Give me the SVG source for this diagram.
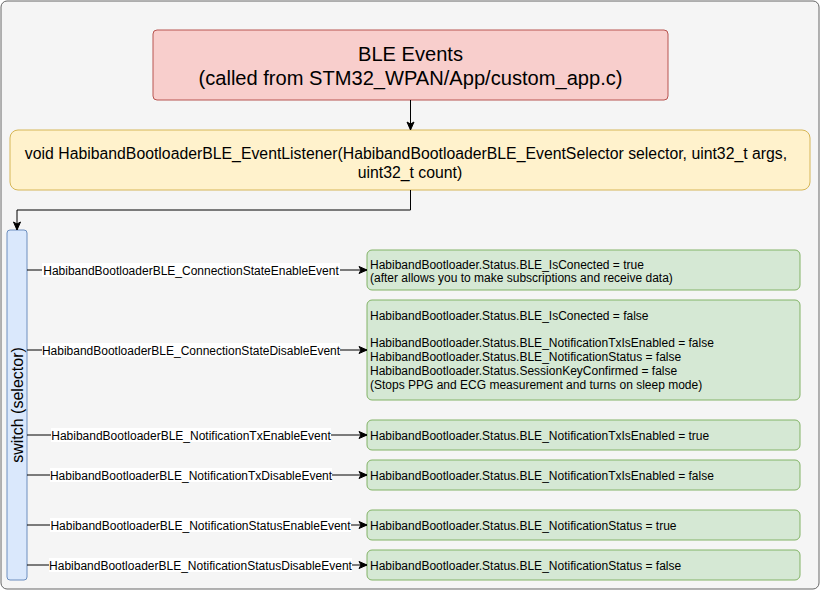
<svg xmlns="http://www.w3.org/2000/svg" width="821" height="591" viewBox="0 0 821 591">
<defs>
<marker id="arr" markerWidth="10" markerHeight="10" refX="9" refY="5" orient="auto" markerUnits="userSpaceOnUse">
<path d="M1,1.5 L9,5 L1,8.5 L3,5 Z" fill="#000" stroke="#000" stroke-width="1"/>
</marker>
<style>
text{font-family:"Liberation Sans",Arial,sans-serif;fill:#000}
.g rect{fill:#d5e8d4;stroke:#82b366;stroke-width:1}
.g text{font-size:12px}
.lbl text{font-size:12px;text-anchor:middle}
.lbl rect{fill:#fff}
.e{stroke:#000;stroke-width:1;fill:none}
</style>
</defs>
<rect x="1" y="1" width="818" height="588" rx="6" fill="#f5f5f5" stroke="#666"/>

<g id="ble-events">
<rect x="153" y="30" width="515" height="70" rx="4" fill="#f8cecc" stroke="#b85450"/>
<text x="410.5" y="61" font-size="20.1" text-anchor="middle">BLE Events</text>
<text x="410.5" y="85" font-size="20.1" text-anchor="middle">(called from STM32_WPAN/App/custom_app.c)</text>
</g>

<g id="listener">
<rect x="10" y="130" width="800" height="60" rx="8" fill="#fff2cc" stroke="#d6b656"/>
<text x="406" y="158.5" font-size="15.8" text-anchor="middle">void HabibandBootloaderBLE_EventListener(HabibandBootloaderBLE_EventSelector selector, uint32_t args,</text>
<text x="410" y="177.5" font-size="15.8" text-anchor="middle">uint32_t count)</text>
</g>

<g id="switch">
<rect x="7" y="230" width="20" height="350" rx="3" fill="#dae8fc" stroke="#6c8ebf"/>
<text x="0" y="0" font-size="16" text-anchor="middle" transform="translate(22.5,405) rotate(-90)">switch (selector)</text>
</g>

<g id="r1" class="g">
<rect x="367" y="250" width="433" height="40" rx="5"/>
<text x="370" y="269">HabibandBootloader.Status.BLE_IsConected = true</text>
<text x="370" y="282">(after allows you to make subscriptions and receive data)</text>
</g>
<g id="r2" class="g">
<rect x="367" y="300" width="433" height="100" rx="5"/>
<text x="370" y="320">HabibandBootloader.Status.BLE_IsConected = false</text>
<text x="370" y="347">HabibandBootloader.Status.BLE_NotificationTxIsEnabled = false</text>
<text x="370" y="361">HabibandBootloader.Status.BLE_NotificationStatus = false</text>
<text x="370" y="375">HabibandBootloader.Status.SessionKeyConfirmed = false</text>
<text x="370" y="389">(Stops PPG and ECG measurement and turns on sleep mode)</text>
</g>
<g id="r3" class="g">
<rect x="367" y="420" width="433" height="30" rx="5"/>
<text x="370" y="440">HabibandBootloader.Status.BLE_NotificationTxIsEnabled = true</text>
</g>
<g id="r4" class="g">
<rect x="367" y="460" width="433" height="30" rx="5"/>
<text x="370" y="480">HabibandBootloader.Status.BLE_NotificationTxIsEnabled = false</text>
</g>
<g id="r5" class="g">
<rect x="367" y="510" width="433" height="30" rx="5"/>
<text x="370" y="530">HabibandBootloader.Status.BLE_NotificationStatus = true</text>
</g>
<g id="r6" class="g">
<rect x="367" y="550" width="433" height="30" rx="5"/>
<text x="370" y="570">HabibandBootloader.Status.BLE_NotificationStatus = false</text>
</g>

<g id="connectors">
<path class="e" d="M410.5,100 V130" marker-end="url(#arr)"/>
<path class="e" d="M410.5,190 V210 H17 V230" marker-end="url(#arr)"/>
<path class="e" d="M27,270 H367" marker-end="url(#arr)"/>
<path class="e" d="M27,350 H367" marker-end="url(#arr)"/>
<path class="e" d="M27,435 H367" marker-end="url(#arr)"/>
<path class="e" d="M27,475 H367" marker-end="url(#arr)"/>
<path class="e" d="M27,525 H367" marker-end="url(#arr)"/>
<path class="e" d="M27,565 H367" marker-end="url(#arr)"/>
<g class="lbl">
<rect x="42" y="263" width="298" height="14"/>
<text x="191" y="274.5">HabibandBootloaderBLE_ConnectionStateEnableEvent</text>
<rect x="42" y="343" width="298" height="14"/>
<text x="191" y="354.5">HabibandBootloaderBLE_ConnectionStateDisableEvent</text>
<rect x="51" y="428" width="280" height="14"/>
<text x="191" y="439.5">HabibandBootloaderBLE_NotificationTxEnableEvent</text>
<rect x="50" y="468" width="282" height="14"/>
<text x="191" y="479.5">HabibandBootloaderBLE_NotificationTxDisableEvent</text>
<rect x="50" y="518" width="301" height="14"/>
<text x="200.5" y="529.5">HabibandBootloaderBLE_NotificationStatusEnableEvent</text>
<rect x="49" y="558" width="303" height="14"/>
<text x="200.5" y="569.5">HabibandBootloaderBLE_NotificationStatusDisableEvent</text>
</g>
</g>
</svg>
